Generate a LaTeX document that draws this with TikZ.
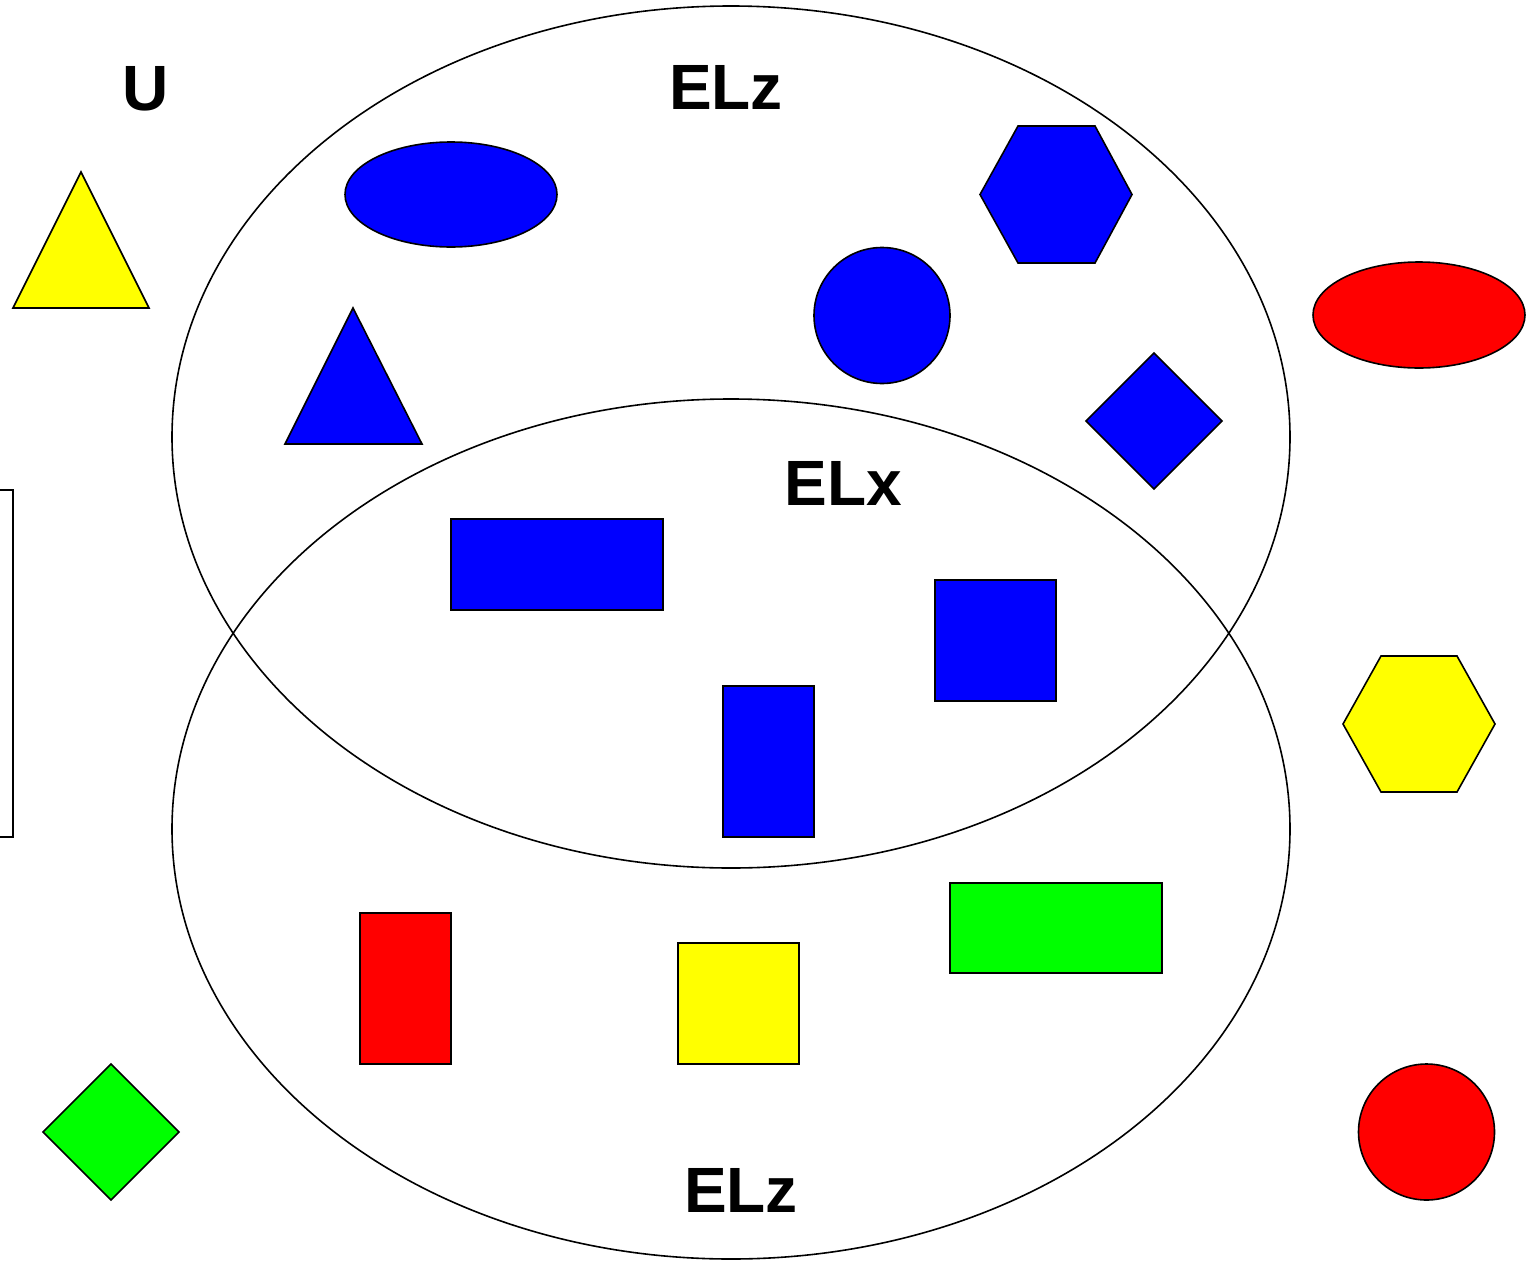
\documentclass[tikz,border=0pt]{standalone}
\usepackage{fontspec}
\setmainfont{Liberation Sans}
\definecolor{pblue}{HTML}{0000FF}
\definecolor{pred}{HTML}{FF0000}
\definecolor{pyellow}{HTML}{FFFF00}
\definecolor{pgreen}{HTML}{00FF00}
\tikzset{
  setline/.style={draw=black, line width=1.6pt},
  shapeline/.style={draw=black, line width=1.6pt, line join=miter},
  lbl/.style={inner sep=0pt, anchor=base, font=\fontsize{64}{64}\selectfont\bfseries},
}
\begin{document}
\begin{tikzpicture}[x=1pt, y=-1pt]
\useasboundingbox[fill=white] (0,0) rectangle (1537,1261);
% sets
\draw[setline] (731,437) ellipse [x radius=559, y radius=431];
\draw[setline] (731,829) ellipse [x radius=559, y radius=430];
% partial rectangle at left edge
\draw[shapeline] (-5,490) -- (13,490) -- (13,837) -- (-5,837);
% labels
\node[lbl] (u) at (146,110) {U};
\node[lbl] (elztop) at (726,109) {ELz};
\node[lbl] (elx) at (843.5,505) {ELx};
\node[lbl] (elzbot) at (741,1212) {ELz};
% outside shapes
\filldraw[shapeline, fill=pyellow] (81,172) -- (149,308) -- (13,308) -- cycle;
\filldraw[shapeline, fill=pred] (1419,315) ellipse [x radius=106, y radius=53];
\filldraw[shapeline, fill=pyellow] (1381,656) -- (1457,656) -- (1495,724) -- (1457,792) -- (1381,792) -- (1343,724) -- cycle;
\filldraw[shapeline, fill=pred] (1426.5,1132) circle [radius=68];
\filldraw[shapeline, fill=pgreen] (111,1064) -- (179,1132) -- (111,1200) -- (43,1132) -- cycle;
% shapes in top set
\filldraw[shapeline, fill=pblue] (451,194.5) ellipse [x radius=106, y radius=52.5];
\filldraw[shapeline, fill=pblue] (353,308) -- (422,444) -- (285,444) -- cycle;
\filldraw[shapeline, fill=pblue] (1018,126) -- (1095,126) -- (1132,194.5) -- (1095,263) -- (1018,263) -- (980,194.5) -- cycle;
\filldraw[shapeline, fill=pblue] (882,315.5) circle [radius=68];
\filldraw[shapeline, fill=pblue] (1154,353) -- (1222,421) -- (1154,489) -- (1086,421) -- cycle;
% shapes in intersection
\filldraw[shapeline, fill=pblue] (451,519) rectangle (663,610);
\filldraw[shapeline, fill=pblue] (935,580) rectangle (1056,701);
\filldraw[shapeline, fill=pblue] (723,686) rectangle (814,837);
% shapes in bottom set
\filldraw[shapeline, fill=pred] (360,913) rectangle (451,1064);
\filldraw[shapeline, fill=pyellow] (678,943) rectangle (799,1064);
\filldraw[shapeline, fill=pgreen] (950,883) rectangle (1162,973);
\end{tikzpicture}
\end{document}
